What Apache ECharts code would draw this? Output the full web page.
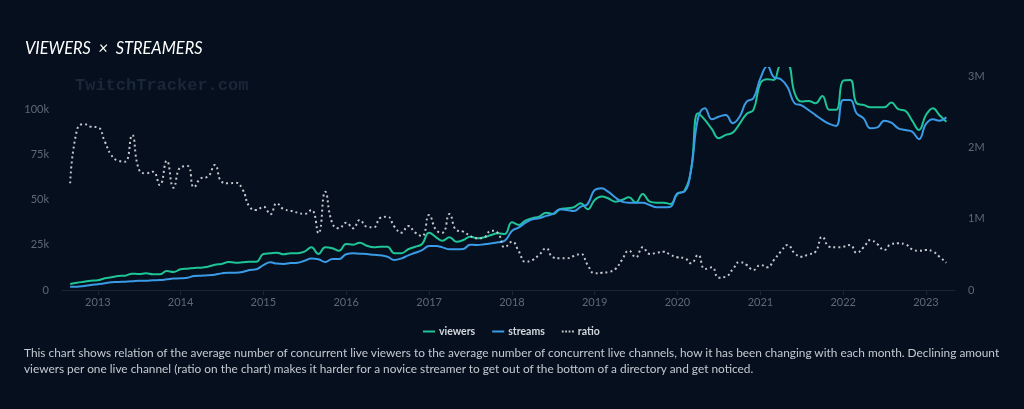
<!DOCTYPE html>
<html><head><meta charset="utf-8">
<script src="https://cdn.jsdelivr.net/npm/echarts@6/dist/echarts.min.js"></script>
<style>
html,body{margin:0;padding:0;background:#050f1d;width:1024px;height:409px;overflow:hidden}
#chart{position:absolute;left:0;top:0;width:1024px;height:409px}
#desc{position:absolute;left:24px;top:345px;font-family:Lato,"Noto Sans",sans-serif;font-size:11.87px;line-height:16px;color:#c5cad1;white-space:nowrap}
</style></head><body>
<div id="chart"></div>
<div id="desc">This chart shows relation of the average number of concurrent live viewers to the average number of concurrent live channels, how it has been changing with each month. Declining amount<br>viewers per one live channel (ratio on the chart) makes it harder for a novice streamer to get out of the bottom of a directory and get noticed.</div>
<script>
// monthly data, first month = September 2012
const firstYear = 2012, firstMonthIndex = 8;
const viewers = [84000,102000,116000,130000,136000,164000,178000,196000,201000,229000,
224000,234000,220000,220000,266000,252000,290000,299000,309000,313000,
327000,355000,365000,393000,383000,388000,397000,397000,505000,515000,
523000,501000,515000,515000,537000,599000,505000,599000,585000,551000,
645000,635000,663000,621000,599000,607000,607000,515000,515000,571000,
607000,645000,804000,739000,691000,739000,677000,701000,748000,725000,
739000,771000,795000,785000,949000,912000,972000,1006000,1028000,1084000,
1066000,1132000,1146000,1160000,1216000,1132000,1262000,1309000,1286000,1238000,
1262000,1300000,1224000,1346000,1238000,1224000,1224000,1206000,1346000,1393000,
1683000,2478000,2384000,2254000,2128000,2174000,2206000,2328000,2468000,2525000,
2899000,2955000,2945000,3150000,3150000,2759000,2641000,2651000,2618000,2721000,
2525000,2525000,2935000,2945000,2618000,2595000,2562000,2562000,2562000,2627000,
2534000,2515000,2374000,2244000,2454000,2548000,2454000,2360000];
const streams = [1800,1800,2200,2800,3200,3700,4300,4400,4600,4800,
5100,5100,5400,5500,5900,6300,6500,6800,7700,7900,
8100,8500,9200,9600,9600,10000,11100,11500,13800,15300,
14600,14400,14900,15100,16200,17500,17000,15500,17200,17200,
19800,20300,20100,19900,19500,19200,18400,16600,17500,19200,
20600,22100,24300,24300,23600,22500,22500,22700,25100,24900,
25300,25800,26400,27300,32700,34700,37100,39100,39700,41000,
42100,44700,44300,43700,46100,47600,55300,56300,54400,51300,
48900,48300,48300,48300,47000,45800,45800,46100,53500,54400,
66400,95000,100600,94500,95900,96800,92300,95900,104200,106100,
117200,124000,117700,116600,112200,103300,102200,99600,96800,94100,
91900,90800,105100,105100,97800,95000,89500,90000,93700,92600,
89500,88500,87600,83400,91900,94500,93700,95600];
const ratio = [86.5,129.7,134.6,132.4,131.9,120.2,109.5,104.8,104.0,125.7,
97.9,94.6,95.9,85.1,104.8,82.9,99.5,100.5,83.3,90.6,
91.9,101.4,87.8,86.5,87.0,81.6,67.5,64.9,67.5,61.4,
70.3,65.4,64.3,62.7,61.6,64.9,46.0,79.7,54.1,50.0,
54.6,50.0,56.8,51.3,50.8,58.6,59.4,51.3,46.5,51.9,
46.5,43.8,60.8,48.6,46.5,61.6,48.6,47.3,43.8,41.9,
42.7,48.1,46.0,34.6,39.2,31.1,22.9,24.3,28.4,33.8,
26.5,25.7,25.7,27.6,29.2,20.3,13.5,14.0,14.6,16.8,
24.3,31.9,26.5,34.6,29.2,30.2,31.1,28.6,26.5,25.9,
21.6,28.4,17.0,18.4,10.0,10.8,16.8,22.7,20.3,16.2,
20.3,18.4,24.3,31.1,36.5,29.8,27.0,28.9,31.1,43.2,
35.1,34.6,35.1,36.5,30.2,34.6,40.5,37.1,32.4,37.3,
37.9,37.1,33.0,31.9,32.4,31.1,27.0,22.1];
const leftTicks = [0, 25000, 50000, 75000, 100000];
const rightTicks = [0, 1000000, 2000000, 3000000];

const months = viewers.map((_, i) => {
  const d = new Date(firstYear, firstMonthIndex + i, 1);
  return d.getFullYear() + '-' + String(d.getMonth() + 1).padStart(2, '0') + '-01';
});

const chart = echarts.init(document.getElementById('chart'), null, {renderer: 'canvas'});
const axisColor = '#1b2634';
const labelColor = '#5f6975';
const lineIcon = 'path://M0,0H12V2H0Z';
const dotIcon = 'path://M0,0H1.6V2H0ZM3,0H4.6V2H3ZM6,0H7.6V2H6ZM9,0H10.6V2H9Z';
chart.setOption({
  backgroundColor: '#050f1d',
  animation: false,
  title: {
    text: 'VIEWERS \u00a0×\u00a0 STREAMERS', left: 20, top: 36,
    textStyle: {color: '#ffffff', fontFamily: 'Lato', fontStyle: 'italic', fontWeight: 'normal', fontSize: 16.4}
  },
  graphic: [{
    type: 'text', left: 75, top: 77, silent: true,
    style: {text: 'TwitchTracker.com', fill: '#1b2737', font: 'bold 17px "Liberation Mono", monospace'}
  }],
  legend: {
    top: 321, left: 418,
    itemWidth: 12, itemHeight: 2, itemGap: 17, symbolKeepAspect: false,
    textStyle: {color: '#d3d8de', fontFamily: 'Lato', fontSize: 10.5, fontWeight: 'bold', padding: [0, 0, 0, -1]},
    data: [{name: 'viewers', icon: lineIcon}, {name: 'streams', icon: lineIcon}, {name: 'ratio', icon: dotIcon}]
  },
  grid: {left: 62, right: 69, top: 68, height: 222},
  xAxis: {
    type: 'time',
    min: '2012-07-27', max: '2023-05-09',
    minInterval: 365 * 24 * 3600 * 1000, maxInterval: 366 * 24 * 3600 * 1000,
    axisLine: {lineStyle: {color: axisColor, width: 1}},
    axisTick: {show: true, length: 5, lineStyle: {color: axisColor}},
    splitLine: {show: false},
    axisLabel: {
      color: labelColor, fontFamily: 'Lato', fontSize: 11, margin: 7,
      formatter: v => { const d = new Date(v); return (d.getMonth() === 0 && d.getDate() === 1) ? String(d.getFullYear()) : ''; }
    }
  },
  yAxis: [{
    type: 'value', position: 'left', min: 0, max: 122856, interval: 25000,
    axisLine: {show: false}, axisTick: {show: false}, splitLine: {show: false},
    axisLabel: {color: labelColor, fontFamily: 'Lato', fontSize: 11, margin: 13, showMaxLabel: false,
      formatter: v => leftTicks.includes(v) ? (v === 0 ? '0' : (v / 1000) + 'k') : ''}
  }, {
    type: 'value', position: 'right', min: 0, max: 3112000, interval: 1000000,
    axisLine: {show: false}, axisTick: {show: false}, splitLine: {show: false},
    axisLabel: {color: labelColor, fontFamily: 'Lato', fontSize: 11, margin: 13, showMaxLabel: false,
      formatter: v => rightTicks.includes(v) ? (v === 0 ? '0' : (v / 1000000) + 'M') : ''}
  }, {
    type: 'value', show: false, min: 0, max: 180
  }],
  series: [{
    name: 'viewers', type: 'line', yAxisIndex: 1, symbol: 'none', smooth: 0.45,
    lineStyle: {color: '#1fc596', width: 2}, itemStyle: {color: '#1fc596'},
    data: months.map((m, i) => [m, viewers[i]])
  }, {
    name: 'streams', type: 'line', yAxisIndex: 0, symbol: 'none', smooth: 0.45,
    lineStyle: {color: '#3a9be6', width: 2}, itemStyle: {color: '#3a9be6'},
    data: months.map((m, i) => [m, streams[i]])
  }, {
    name: 'ratio', type: 'line', yAxisIndex: 2, symbol: 'none', smooth: 0.5,
    lineStyle: {color: '#c4c7cc', width: 2, type: [2, 3]}, itemStyle: {color: '#c4c7cc'},
    data: months.map((m, i) => [m, ratio[i]])
  }]
});
</script>
</body></html>
